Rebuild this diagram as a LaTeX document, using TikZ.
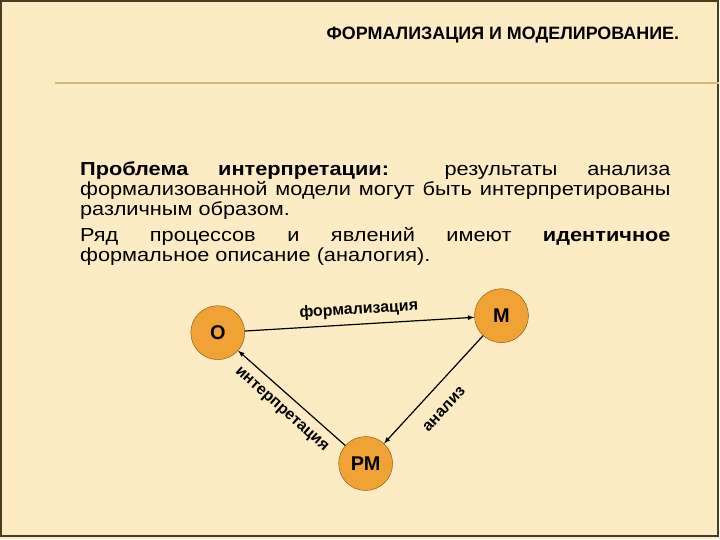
\documentclass[tikz,border=0pt]{standalone}
\usepackage{fontspec}
\setmainfont{Liberation Sans}
\newfontfamily\titlefont{Liberation Sans}
\newfontfamily\bodyfont[FakeStretch=1.15]{Liberation Sans}
\usetikzlibrary{arrows,shapes}
\tikzset{>=latex}

\definecolor{slidebg}{RGB}{253,236,195}
\definecolor{slideframe}{RGB}{72,62,32}
\definecolor{ruleline}{RGB}{214,184,118}
\definecolor{discfill}{RGB}{240,162,52}
\definecolor{discedge}{RGB}{120,80,20}

\tikzset{
	roundbox/.style={circle, draw=discedge, fill=discfill, minimum size=54bp, inner sep=0pt, font=\bfseries\fontsize{20}{24}\selectfont},
	arclabel/.style={sloped, font=\bfseries\fontsize{16}{19}\selectfont}
}

\begin{document}
\begin{tikzpicture}[x=1bp, y=-1bp]

	% Slide
	\fill[slidebg] (0,0) rectangle (720,540);
	\draw[slideframe, line width=2bp] (1,1) rectangle (718.5,537);
	\draw[ruleline, line width=1.5bp] (55,83) -- (720,83);

	\node[anchor=base east, inner sep=0pt, font=\titlefont\bfseries\fontsize{18}{21}\selectfont](title) at (680,40) {ФОРМАЛИЗАЦИЯ И МОДЕЛИРОВАНИЕ.};

	% Description

	\node[text width=591bp, align=justify, anchor=base west, inner sep=0pt, font=\bodyfont\fontsize{19}{19.8}\selectfont](problem) at (80,176) {\hyphenpenalty=10000 \textbf{Проблема интерпретации:} результаты анализа\linebreak формализованной модели могут быть интерпретированы\linebreak различным образом.\par\vspace{7bp}Ряд процессов и явлений имеют \textbf{идентичное}\linebreak формальное описание (аналогия).};

	% States

	\node[roundbox](object) at (218,333) {О};

	\node[roundbox](model) at (502,316) {М};

	\node[roundbox](result) at (366,464) {РМ};

	% Arrows

	\draw [->, line width=1.2bp] (object) to node[arclabel, above=3bp] {формализация} (model);
	\draw [->, line width=1.2bp] (model) to node[arclabel, below=13bp, pos=0.55] {анализ} (result);
	\draw [->, line width=1.2bp] (result) to node[arclabel, below=6bp] {интерпретация} (object);

\end{tikzpicture}
\end{document}
